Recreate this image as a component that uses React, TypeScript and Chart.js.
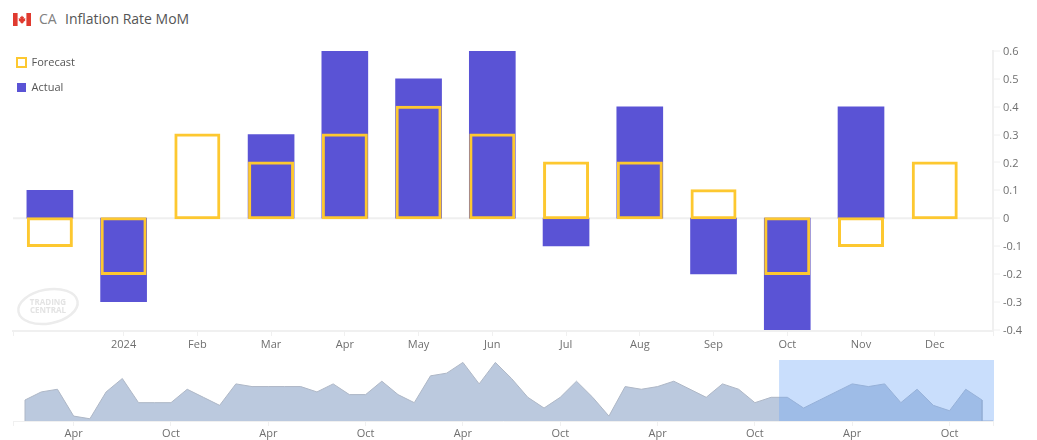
import React, { useEffect, useRef } from "react";
import { Chart, registerables } from "chart.js";

Chart.register(...registerables);

const monthLabels = ["", "2024", "Feb", "Mar", "Apr", "May", "Jun", "Jul", "Aug", "Sep", "Oct", "Nov", "Dec"];
const forecastValues = [-0.1, -0.2, 0.3, 0.2, 0.3, 0.4, 0.3, 0.2, 0.2, 0.1, -0.2, -0.1, 0.2];
const actualValues = [0.1, -0.3, null, 0.3, 0.6, 0.5, 0.6, -0.1, 0.4, -0.2, -0.4, 0.4, null];
const yTicks = [-0.4, -0.3, -0.2, -0.1, 0, 0.1, 0.2, 0.3, 0.4, 0.5, 0.6];
const historyValues = [
  0.1, 0.4, 0.5, -0.5, -0.6, 0.4, 0.9, 0, 0, 0, 0.5, 0.2, -0.1, 0.7, 0.6, 0.6, 0.6, 0.6, 0.4, 0.7,
  0.3, 0.3, 0.8, 0.3, 0, 1.0, 1.1, 1.5, 0.7, 1.5, 0.9, 0.2, -0.2, 0.2, 0.8, 0.2, -0.5, 0.6, 0.5, 0.6,
  0.8, 0.5, 0.2, 0.7, 0.5, 0, 0.2, 0.2, -0.2, 0.1, 0.4, 0.7, 0.6, 0.7, 0, 0.5, -0.1, -0.3, 0.5, 0.1,
];
const historyTickIndex = [3, 9, 15, 21, 27, 33, 39, 45, 51, 57];
const historyTickLabels = ["Apr", "Oct", "Apr", "Oct", "Apr", "Oct", "Apr", "Oct", "Apr", "Oct"];

const FONT = "'Open Sans', sans-serif";
const TEXT = "#6f6f6f";
const AXIS = "#f0f0f0";
const PURPLE = "#5a53d5";
const YELLOW = "#fdc830";
const X_MIN = -0.5;
const X_MAX = 12.79;
const H_MIN = -0.74;
const H_MAX = 59.68;
const H_FLOOR = -0.683;
const H_TOP = 1.59;
const SELECT_FROM = 46.49;

const watermark = {
  id: "watermark",
  beforeDatasetsDraw(chart: any) {
    const c = chart.ctx;
    const a = chart.chartArea;
    const zero = chart.scales.y.getPixelForValue(0);
    c.save();
    c.strokeStyle = "#efefef";
    c.lineWidth = 2;
    c.beginPath();
    c.moveTo(a.left, zero);
    c.lineTo(a.right, zero);
    c.stroke();
    c.strokeStyle = "#ececec";
    c.lineWidth = 2.5;
    c.beginPath();
    c.ellipse(48, 306.5, 30, 17, -0.18, 0, Math.PI * 2);
    c.stroke();
    c.fillStyle = "#e3e3e3";
    c.font = `bold 8px ${FONT}`;
    c.textAlign = "center";
    c.textBaseline = "middle";
    c.fillText("TRADING", 48, 303);
    c.fillText("CENTRAL", 48, 311);
    c.restore();
  },
};

const placeLegend = {
  id: "placeLegend",
  beforeDraw(chart: any) {
    chart.legend.left = 3;
    chart.legend.top = 43;
  },
};

const selection = {
  id: "selection",
  afterDatasetsDraw(chart: any) {
    const c = chart.ctx;
    const a = chart.chartArea;
    const x0 = chart.scales.x.getPixelForValue(SELECT_FROM);
    c.save();
    c.fillStyle = "rgba(109,166,247,0.37)";
    c.fillRect(x0, a.top, a.right + 1 - x0, a.bottom - a.top);
    c.restore();
  },
};

export default function App() {
  const mainRef = useRef<HTMLCanvasElement>(null);
  const navRef = useRef<HTMLCanvasElement>(null);

  useEffect(() => {
    const main = new Chart(mainRef.current as HTMLCanvasElement, {
      type: "bar",
      plugins: [watermark, placeLegend],
      data: {
        datasets: [
          {
            label: "Forecast",
            data: forecastValues.map((y, x) => ({ x, y })),
            backgroundColor: "rgba(255,255,255,0)",
            borderColor: YELLOW,
            borderWidth: 1,
            borderSkipped: false,
            inflateAmount: 1,
            barThickness: 44,
            grouped: false,
          },
          {
            label: "Actual",
            data: actualValues.map((y, x) => ({ x, y })),
            backgroundColor: PURPLE,
            borderColor: PURPLE,
            borderWidth: 0,
            barThickness: 46,
            grouped: false,
          },
        ] as any,
      },
      options: {
        animation: false,
        responsive: false,
        layout: { padding: { left: 13, top: 51, right: 0, bottom: 0 } },
        plugins: {
          tooltip: { enabled: false },
          legend: {
            position: "chartArea" as any,
            align: "start",
            labels: {
              boxWidth: 9,
              boxHeight: 9,
              padding: 14,
              color: "#555555",
              font: { family: FONT, size: 11 },
              generateLabels(chart: any) {
                return Chart.defaults.plugins.legend.labels.generateLabels(chart).map((item: any, i: number) => ({
                  ...item,
                  lineWidth: i === 0 ? 2 : 0,
                }));
              },
            },
          },
        },
        scales: {
          x: {
            type: "linear",
            offset: false,
            min: X_MIN,
            max: X_MAX,
            afterBuildTicks(axis: any) {
              axis.ticks = [X_MIN, ...monthLabels.map((_, i) => i).slice(1), X_MAX].map((value) => ({ value }));
            },
            afterFit(axis: any) {
              axis.height = 29;
            },
            grid: { display: true, offset: false, drawOnChartArea: false, drawTicks: true, tickLength: 5, tickColor: AXIS, tickWidth: 1 },
            border: { color: AXIS, width: 2 },
            ticks: {
              autoSkip: false,
              maxRotation: 0,
              padding: 2,
              color: TEXT,
              font: { family: FONT, size: 11 },
              callback: (v: any) => (Number.isInteger(v) ? monthLabels[v] : ""),
            },
          },
          y: {
            position: "right",
            min: -0.405,
            max: 0.6,
            afterBuildTicks(axis: any) {
              axis.ticks = yTicks.map((value) => ({ value }));
            },
            afterFit(axis: any) {
              axis.width = 44;
            },
            grid: {
              drawTicks: true,
              tickLength: 7,
              tickColor: AXIS,
              tickWidth: 1,
              color: "rgba(0,0,0,0)",
              lineWidth: 0,
            },
            border: { color: AXIS, width: 2 },
            ticks: {
              padding: 3,
              labelOffset: 1,
              color: TEXT,
              font: { family: FONT, size: 11 },
              callback: (v: any) => (v === 0 ? "0" : Number(v).toFixed(1)),
            },
          },
        },
      },
    } as any);

    const nav = new Chart(navRef.current as HTMLCanvasElement, {
      type: "line",
      plugins: [selection],
      data: {
        datasets: [
          {
            data: [
              { x: 0, y: H_FLOOR },
              ...historyValues.map((y, x) => ({ x, y })),
              { x: historyValues.length - 1, y: H_FLOOR },
              { x: H_MAX, y: H_FLOOR },
            ],
            borderColor: "#aeb7c6",
            borderWidth: 1,
            backgroundColor: "#bbc9de",
            fill: "start",
            tension: 0,
            pointRadius: 0,
          },
        ],
      },
      options: {
        animation: false,
        responsive: false,
        layout: { padding: { left: 13, top: 5, right: 44, bottom: 0 } },
        plugins: { legend: { display: false }, tooltip: { enabled: false } },
        scales: {
          x: {
            type: "linear",
            min: H_MIN,
            max: H_MAX,
            afterBuildTicks(axis: any) {
              axis.ticks = [H_MIN, ...historyTickIndex, H_MAX].map((value) => ({ value }));
            },
            afterFit(axis: any) {
              axis.height = 19;
            },
            grid: { display: true, drawOnChartArea: false, tickLength: 5, tickColor: AXIS },
            border: { color: AXIS, width: 1 },
            ticks: {
              autoSkip: false,
              maxRotation: 0,
              padding: 1,
              color: TEXT,
              font: { family: FONT, size: 11 },
              callback: (v: any) => {
                const i = historyTickIndex.indexOf(v);
                return i >= 0 ? historyTickLabels[i] : "";
              },
            },
          },
          y: { display: false, min: H_FLOOR, max: H_TOP },
        },
      },
    } as any);

    return () => {
      main.destroy();
      nav.destroy();
    };
  }, []);

  return (
    <div style={{ position: "absolute", left: 0, top: 0, width: 1037, height: 440, overflow: "hidden", background: "#fff" }}>
      <svg width="18" height="13" viewBox="0 0 18 13" style={{ position: "absolute", left: 13, top: 13 }}>
        <rect width="18" height="13" fill="#fff" />
        <rect width="4.6" height="13" fill="#e03a2f" />
        <rect x="13.4" width="4.6" height="13" fill="#e03a2f" />
        <path d="M9 2.5l1 1.6 1-.4-.4 2.2 1.5-.8.3 1-.5.9.6.4-2.2 1.6.2 1H9.3v1h-.6v-1H7.5l.2-1-2.2-1.6.6-.4-.5-.9.3-1 1.5.8-.4-2.2 1 .4z" fill="#e03a2f" />
      </svg>
      <div style={{ position: "absolute", left: 39, top: 9, fontFamily: FONT, fontSize: 14, lineHeight: "20px", color: "#808080", whiteSpace: "nowrap" }}>CA</div>
      <div style={{ position: "absolute", left: 65, top: 9, fontFamily: FONT, fontSize: 14, lineHeight: "20px", color: "#555555", whiteSpace: "nowrap" }}>Inflation Rate MoM</div>
      <canvas ref={mainRef} width={1037} height={360} style={{ position: "absolute", left: 0, top: 0, display: "block" }} />
      <canvas ref={navRef} width={1037} height={85} style={{ position: "absolute", left: 0, top: 355, display: "block" }} />
    </div>
  );
}
